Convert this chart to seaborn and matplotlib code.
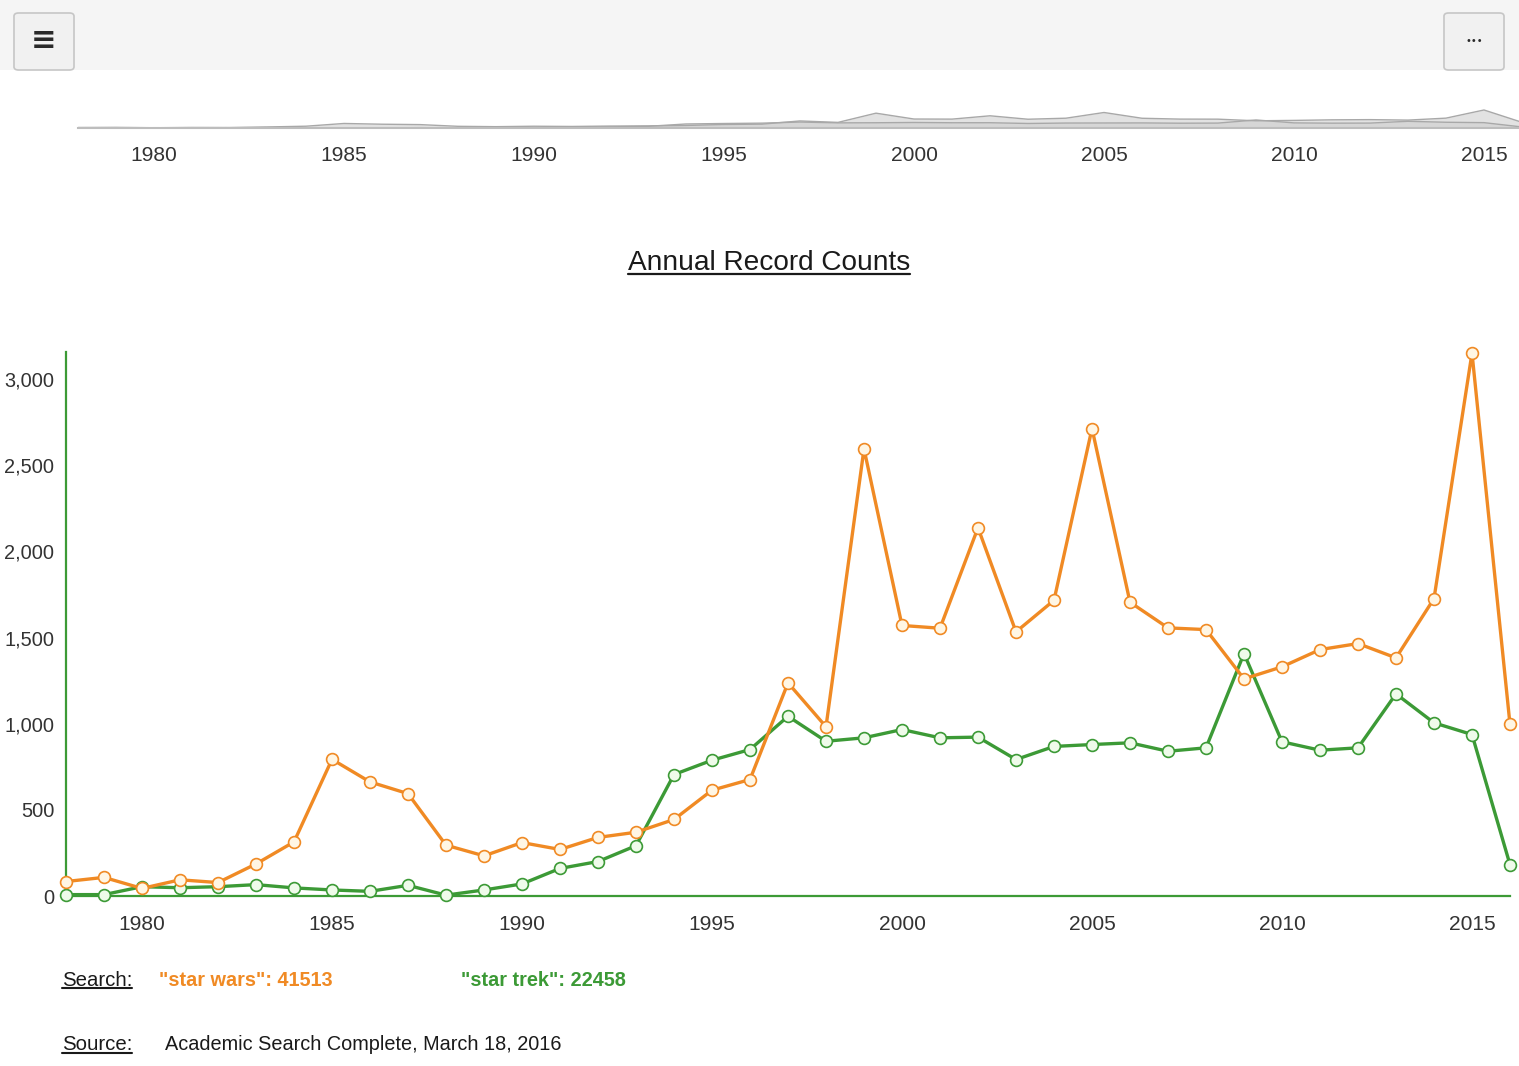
import matplotlib
matplotlib.use("Agg")
import matplotlib.pyplot as plt
import seaborn as sns
import pandas as pd
from matplotlib import font_manager
from matplotlib.patches import Rectangle, FancyBboxPatch
from matplotlib.lines import Line2D

# ---------------- data ----------------
years = list(range(1978, 2017))
star_wars = [84, 108, 44, 94, 78, 186, 314, 793, 662, 594, 295, 233, 310, 270, 340, 370, 444,
             614, 676, 1237, 982, 2595, 1570, 1554, 2137, 1533, 1716, 2713, 1705, 1556, 1546,
             1260, 1330, 1430, 1465, 1382, 1726, 3151, 996]
star_trek = [8, 8, 54, 48, 54, 66, 47, 35, 27, 62, 5, 35, 70, 160, 200, 292, 705,
             788, 850, 1043, 898, 918, 966, 918, 922, 792, 868, 879, 889, 840, 860,
             1407, 895, 846, 860, 1173, 1005, 937, 182]
series_names = ['"star wars"', '"star trek"']
series_totals = [41513, 22458]
x_ticks = [1980, 1985, 1990, 1995, 2000, 2005, 2010, 2015]
y_ticks = [0, 500, 1000, 1500, 2000, 2500, 3000]
title = "Annual Record Counts"
source_text = "Academic Search Complete, March 18, 2016"

df = pd.DataFrame({"year": years, "star wars": star_wars, "star trek": star_trek})

# ---------------- style ----------------
sns.set_theme(style="white")
names = {f.name for f in font_manager.fontManager.ttflist}
if "Liberation Sans Narrow" in names:
    FONT = "Liberation Sans Narrow"
    k = 1.0
else:
    FONT = "Liberation Sans"
    k = 0.84
plt.rcParams["font.family"] = [FONT, "DejaVu Sans"]

ORANGE = "#f08a24"
GREEN = "#3c9a36"
TXT = "#333333"

W, H = 1519, 1066
fig = plt.figure(figsize=(W / 100, H / 100), dpi=100)
fig.patch.set_facecolor("white")


def fx(px):
    return px / W


def fy(py):
    return 1 - py / H


# ---------------- toolbar ----------------
fig.add_artist(Rectangle((0, fy(70)), 1, 70 / H, transform=fig.transFigure,
                         facecolor="#f5f5f5", edgecolor="none", zorder=0))
for bx in (14, 1444):
    fig.add_artist(FancyBboxPatch((fx(bx), fy(70)), fx(60), 57 / H,
                                  boxstyle="round,pad=0,rounding_size=0.003",
                                  transform=fig.transFigure, facecolor="#f1f1f1",
                                  edgecolor="#c6c6c6", lw=1.2, zorder=1))
fig.text(fx(44), fy(41), "≡", ha="center", va="center", fontsize=22, weight="bold",
         color="#2a2a2a", family="DejaVu Sans", zorder=2)
fig.text(fx(1474), fy(41), "•••", ha="center", va="center", fontsize=7,
         color="#2a2a2a", family="DejaVu Sans", zorder=2)

# ---------------- navigator ----------------
nav = fig.add_axes([fx(78), fy(128), fx(1522 - 78), 20 / H])
for col in ["star wars", "star trek"]:
    nav.fill_between(df["year"], df[col], color="#cfcfcf", alpha=0.6, lw=0)
    sns.lineplot(data=df, x="year", y=col, ax=nav, color="#a8a8a8", lw=1.0, legend=False)
nav.set_xlim(1978, 2016)
nav.set_ylim(0, 3500)
nav.set_facecolor("none")
for s in ["top", "right", "left"]:
    nav.spines[s].set_visible(False)
nav.spines["bottom"].set_color("#bdbdbd")
nav.spines["bottom"].set_linewidth(1.5)
nav.set_yticks([])
nav.set_xticks(x_ticks)
nav.set_xticklabels([str(v) for v in x_ticks])
nav.set_xticks([1978], minor=True)
nav.tick_params(axis="x", which="major", length=0, pad=13, labelsize=18 * k, labelcolor=TXT)
nav.tick_params(axis="x", which="minor", length=12, width=1.5, color=GREEN, direction="out")
nav.set_xlabel("")
nav.set_ylabel("")

# ---------------- main chart ----------------
ax = fig.add_axes([fx(66), fy(896), fx(1510 - 66), (896 - 352) / H])
ax.set_facecolor("white")
sns.lineplot(data=df, x="year", y="star trek", ax=ax, color=GREEN, lw=2.4,
             marker="o", markersize=8.5, markerfacecolor="#effbea", markeredgecolor=GREEN,
             markeredgewidth=1.2, legend=False, clip_on=False, zorder=3)
sns.lineplot(data=df, x="year", y="star wars", ax=ax, color=ORANGE, lw=2.4,
             marker="o", markersize=8.5, markerfacecolor="#fff6e4", markeredgecolor=ORANGE,
             markeredgewidth=1.2, legend=False, clip_on=False, zorder=4)

ax.set_xlim(1978, 2016)
ax.set_ylim(0, 3157)
for s in ["top", "right"]:
    ax.spines[s].set_visible(False)
for s in ["left", "bottom"]:
    ax.spines[s].set_color(GREEN)
    ax.spines[s].set_linewidth(1.6)
ax.set_xticks(x_ticks)
ax.set_xticklabels([str(v) for v in x_ticks])
ax.set_yticks(y_ticks)
ax.set_yticklabels([f"{v:,}" for v in y_ticks])
ax.set_xticks([2016], minor=True)
ax.set_yticks([3157], minor=True)
ax.tick_params(axis="x", which="major", length=0, labelsize=18 * k, labelcolor=TXT, pad=13.5)
ax.tick_params(axis="y", which="major", length=0, labelsize=17.2 * k, labelcolor=TXT, pad=8.5)
ax.tick_params(axis="both", which="minor", length=9, width=1.5, color=GREEN, direction="out")
ax.set_xlabel("")
ax.set_ylabel("")

# ---------------- texts ----------------
t_title = fig.text(fx(769), fy(263), title, ha="center", va="center",
                   fontsize=24 * k, color="#1a1a1a")
t_search = fig.text(fx(62), fy(980), "Search:", ha="left", va="center",
                    fontsize=17.5 * k, color="#1a1a1a")
fig.text(fx(159), fy(980), f"{series_names[0]}: {series_totals[0]}", ha="left", va="center",
         fontsize=17 * k, color=ORANGE, weight="bold")
fig.text(fx(461), fy(980), f"{series_names[1]}: {series_totals[1]}", ha="left", va="center",
         fontsize=17 * k, color=GREEN, weight="bold")
t_source = fig.text(fx(62), fy(1045), "Source:", ha="left", va="center",
                    fontsize=17.5 * k, color="#1a1a1a")
fig.text(fx(165), fy(1045), source_text, ha="left", va="center",
         fontsize=17 * k, color="#1a1a1a")

fig.canvas.draw()
renderer = fig.canvas.get_renderer()
for t, lw in ((t_title, 1.6), (t_search, 1.5), (t_source, 1.5)):
    bb = t.get_window_extent(renderer)
    yy = (bb.y0 + 2) / H
    fig.add_artist(Line2D([bb.x0 / W, bb.x1 / W], [yy, yy], transform=fig.transFigure,
                          color="#1a1a1a", lw=lw))

fig.savefig("out.png", dpi=100, facecolor="white")
